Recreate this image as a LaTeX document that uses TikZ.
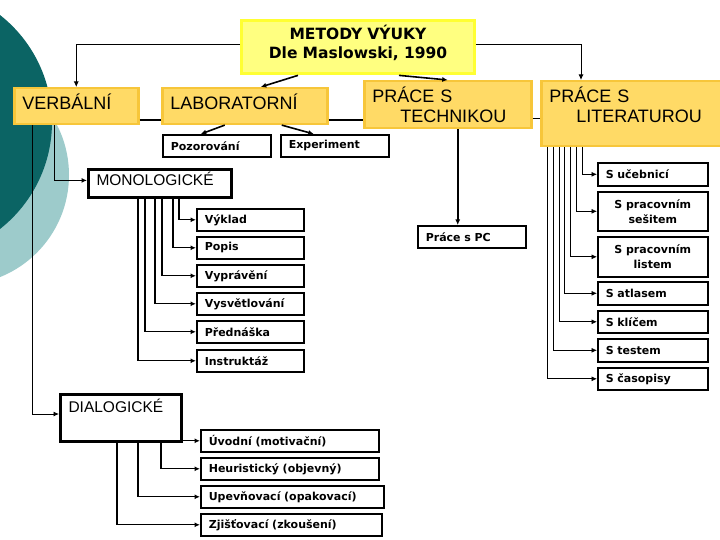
\documentclass[tikz,border=0pt]{standalone}
\usepackage{fontspec}
\setmainfont{DejaVu Sans}
\newfontfamily\labelfont{Liberation Sans}
\usepackage{xcolor}
\definecolor{TEALdark}{HTML}{0B6464}
\definecolor{TEALlight}{HTML}{9DCBCB}
\definecolor{TITLEfill}{HTML}{FFFF80}
\definecolor{TITLEedge}{HTML}{FFFF33}
\definecolor{GOLDfill}{HTML}{FFDA66}
\definecolor{GOLDedge}{HTML}{F7C63A}
\usetikzlibrary{arrows.meta}

\begin{document}
\begin{tikzpicture}[x=1pt, y=-1pt]

    \tikzset{%
        titlebox/.style={fill=TITLEfill, draw=TITLEedge, line width=3pt, align=center, text width=221pt, inner xsep=6pt, inner ysep=5pt, text depth=29pt, font=\bfseries\fontsize{15.5}{19}\selectfont},
        goldbox/.style={anchor=north west, fill=GOLDfill, draw=GOLDedge, line width=2.5pt, align=left, inner xsep=8pt, inner ysep=5.5pt, font=\labelfont\fontsize{18}{20}\selectfont},
        framebox/.style={anchor=north west, draw, line width=3pt, fill=white, align=left, inner xsep=8pt, font=\labelfont\fontsize{15.5}{17}\selectfont},
        itembox/.style={anchor=north west, draw, line width=1.6pt, fill=white, align=left, inner xsep=8pt, inner ysep=2pt, minimum height=22pt, font=\bfseries\fontsize{11}{15}\selectfont},
        link/.style={-{Latex[length=5.5pt, width=5pt]}, line width=0.8pt},
        midlink/.style={link, line width=1.2pt},
        boldlink/.style={link, line width=1.6pt},
        bar/.style={line width=1.6pt}
    }

    \useasboundingbox (0, 0) rectangle (720, 540);
    \begin{scope}
        \clip (0, 0) rectangle (720, 540);
        \fill [TEALlight] (-41, 175) circle [radius=110];
        \fill [TEALdark] (-84, 122) circle [radius=136];
    \end{scope}

    \node [titlebox, anchor=north west] (title) at (240, 19) {METODY VÝUKY\\Dle Maslowski, 1990};

    \node [goldbox, text width=108pt, text depth=9pt] (verbal) at (13, 87) {VERBÁLNÍ};
    \node [goldbox, text width=149pt, text depth=9pt] (laborat) at (161, 87) {LABORATORNÍ};
    \node [goldbox, text width=151pt, text depth=20pt] (technik) at (363, 80) {PRÁCE S\\\hspace*{28pt}TECHNIKOU};
    \node [goldbox, text width=164pt, text depth=38pt] (literatur) at (540, 80) {PRÁCE S\\\hspace*{27pt}LITERATUROU};

    \foreach \a/\b in {verbal/laborat, laborat/technik, technik/literatur} {%
            \draw [bar] ([yshift=-14pt]\a.east) -- ([yshift=-14pt]\a.east -| \b.west);
        }

    \draw [link] ([yshift=2.5pt]title.west) -| (verbal.north);
    \draw [link] ([yshift=2.5pt]title.east) -| ([xshift=41pt]literatur.north west);
    \draw [boldlink] ([xshift=-60pt]title.south) -- ([xshift=16pt]laborat.north);
    \draw [boldlink] ([xshift=41pt]title.south) -- (technik.north);

    \node [itembox, text width=92pt] (pozor) at (162, 134) {Pozorování};
    \node [itembox, text width=92pt] (exper) at (280, 134) {Experiment};
    \node [itembox, text width=92pt] (pc) at (417, 225) {Práce s PC};
    \draw [boldlink] ([xshift=-20pt]laborat.south) -- ([xshift=-16pt]pozor.north);
    \draw [boldlink] ([xshift=37pt]laborat.south) -- ([xshift=-21pt]exper.north);
    \draw [boldlink] ([xshift=10pt]technik.south) -- ([xshift=10pt]technik.south |- pc.north);

    \node [framebox, text width=127pt, inner ysep=3pt, text depth=8.4pt] (monolog) at (87, 168) {MONOLOGICKÉ};
    \node [framebox, text width=105pt, inner ysep=4.6pt, text depth=24.4pt] (dialog) at (59, 393) {DIALOGICKÉ};
    \draw [midlink] ([xshift=-22pt]verbal.south) |- ([yshift=3pt]monolog.west);
    \draw [link] ([xshift=-44pt]verbal.south) |- ([yshift=4pt]dialog.west);

    \foreach \name/\txt/\ytop/\drop in {vyklad/Výklad/208/179, popis/Popis/236/173, vypraveni/Vyprávění/264/162, vysvetl/Vysvětlování/292/155, prednaska/Přednáška/320/145, instrukt/Instruktáž/349/138} {%
            \node [itembox, text width=91pt] (\name) at (196, \ytop) {\txt};
            \draw [midlink] (monolog.south -| \drop, 0) |- (\name.west);
        }

    \foreach \name/\txt/\ytop/\drop/\hgt/\al in {ucebnice/S učebnicí/162/582/23/left, sesit/{S pracovním\\sešitem}/191/576/39/center, list/{S pracovním\\listem}/236/570/40/center, atlas/S atlasem/281/564/23/left, klic/S klíčem/310/559/22/left, test/S testem/338/553/23/left, casopis/S časopisy/367/547/22/left} {%
            \node [itembox, text width=94pt, minimum height=\hgt, align=\al] (\name) at (597, \ytop) {\txt};
            \draw [link] (literatur.south -| \drop, 0) |- (\name.west);
        }

    \foreach \name/\txt/\ytop/\tw in {uvod/Úvodní (motivační)/429/162, heur/Heuristický (objevný)/457/162, upev/Upevňovací (opakovací)/485/167, zjist/Zjišťovací (zkoušení)/513/165} {%
            \node [itembox, text width=\tw pt] (\name) at (200, \ytop) {\txt};
        }
    \draw [midlink] (uvod.west -| dialog.east) -- (uvod.west);
    \foreach \name/\drop in {heur/161, upev/138, zjist/117} {%
            \draw [midlink] (dialog.south -| \drop, 0) |- (\name.west);
        }

\end{tikzpicture}
\end{document}
